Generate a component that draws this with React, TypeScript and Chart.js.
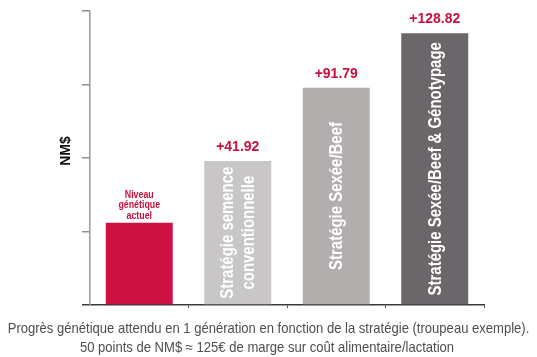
import React, { useEffect, useRef } from "react";
import { Chart, registerables } from "chart.js";

Chart.register(...registerables);

const categories = [
  "Niveau génétique actuel",
  "Stratégie semence conventionnelle",
  "Stratégie Sexée/Beef",
  "Stratégie Sexée/Beef & Génotypage",
];
const nmsValues = [56, 97.92, 147.79, 184.82];
const gainLabels = ["", "+41.92", "+91.79", "+128.82"];
const insideLabels = [[], ["Stratégie semence", "conventionnelle"], ["Stratégie Sexée/Beef"], ["Stratégie Sexée/Beef & Génotypage"]];
const aboveLabels = [["Niveau", "génétique", "actuel"], [], [], []];
const barColors = ["#CD1341", "#C8C6C6", "#B2AEAE", "#6B6669"];
const yMin = 0;
const yMax = 200;
const yStep = 50;
const yAxisTitle = "NM$";
const captionLines = [
  "Progrès génétique attendu en 1 génération en fonction de la stratégie (troupeau exemple).",
  "50 points de NM$ ≈ 125€ de marge sur coût alimentaire/lactation",
];

const SANS = "'Liberation Sans', Arial, sans-serif";
const RED = "#C8103E";

function narrowText(ctx: CanvasRenderingContext2D, text: string, x: number, y: number, sx: number) {
  ctx.save();
  ctx.translate(x, y);
  ctx.scale(sx, 1);
  ctx.fillText(text, 0, 0);
  ctx.restore();
}

const textPlugin = {
  id: "textPlugin",
  afterDraw(chart: any) {
    const ctx = chart.ctx as CanvasRenderingContext2D;
    const meta = chart.getDatasetMeta(0);
    ctx.save();
    meta.data.forEach((bar: any, i: number) => {
      const x = bar.x;
      const top = bar.y;
      const base = bar.base;
      if (gainLabels[i]) {
        ctx.font = `bold 14px ${SANS}`;
        ctx.fillStyle = RED;
        ctx.textAlign = "center";
        ctx.textBaseline = "alphabetic";
        ctx.fillText(gainLabels[i], x, top - 10);
      }
      const above = aboveLabels[i];
      if (above.length) {
        ctx.font = `bold 10.5px ${SANS}`;
        ctx.fillStyle = RED;
        ctx.textAlign = "center";
        ctx.textBaseline = "middle";
        const lh = 10.5;
        above.forEach((t: string, k: number) => {
          narrowText(ctx, t, x, top - 7 - (above.length - 1 - k) * lh, 0.84);
        });
      }
      const inside = insideLabels[i];
      if (inside.length) {
        ctx.save();
        ctx.translate(x, (top + base) / 2);
        ctx.rotate(-Math.PI / 2);
        ctx.font = `bold 18px ${SANS}`;
        ctx.fillStyle = "#FFFFFF";
        ctx.textAlign = "center";
        ctx.textBaseline = "middle";
        const lh = 21;
        inside.forEach((t: string, k: number) => {
          narrowText(ctx, t, 0, (k - (inside.length - 1) / 2) * lh + 1, 0.83);
        });
        ctx.restore();
      }
    });
    const ys = chart.scales.y;
    ctx.save();
    ctx.translate(66, (ys.top + ys.bottom) / 2 - 7);
    ctx.rotate(-Math.PI / 2);
    ctx.font = `bold 14px ${SANS}`;
    ctx.fillStyle = "#111111";
    ctx.textAlign = "center";
    ctx.textBaseline = "middle";
    ctx.fillText(yAxisTitle, 0, 0);
    ctx.restore();
    ctx.font = `14.5px ${SANS}`;
    ctx.fillStyle = "#4E4E4E";
    ctx.textAlign = "center";
    ctx.textBaseline = "alphabetic";
    narrowText(ctx, captionLines[0], 268.5, 333, 0.9);
    narrowText(ctx, captionLines[1], 267, 352, 0.9);
    ctx.restore();
  },
};

export default function App() {
  const canvasRef = useRef<HTMLCanvasElement | null>(null);

  useEffect(() => {
    document.body.style.margin = "0";
    const canvas = canvasRef.current;
    if (!canvas) return;
    const chart = new Chart(canvas, {
      type: "bar",
      data: {
        labels: categories,
        datasets: [
          {
            data: nmsValues,
            backgroundColor: barColors,
            borderWidth: 0,
            barPercentage: 0.68,
            categoryPercentage: 1,
          },
        ],
      },
      options: {
        responsive: false,
        animation: false,
        devicePixelRatio: 1,
        layout: { padding: { left: 82, right: 53, top: 11, bottom: 49 } },
        plugins: {
          legend: { display: false },
          tooltip: { enabled: false },
          title: { display: false },
        },
        scales: {
          x: {
            type: "category",
            ticks: { display: false },
            grid: {
              drawOnChartArea: false,
              drawTicks: true,
              tickLength: 3,
              offset: true,
              color: (ctx: any) => (ctx.index === 0 || ctx.index === categories.length ? "rgba(0,0,0,0)" : "#555555"),
              lineWidth: 1,
            },
            border: { display: true, color: "#3A3A3A", width: 1.5 },
          },
          y: {
            min: yMin,
            max: yMax,
            ticks: { display: false, stepSize: yStep },
            grid: {
              drawOnChartArea: false,
              drawTicks: true,
              tickLength: 8,
              color: (ctx: any) => (ctx.index === 0 ? "#3A3A3A" : "#8F8F8F"),
              lineWidth: 1.5,
            },
            border: { display: true, color: "#9A9A9A", width: 1.5 },
          },
        },
      },
      plugins: [textPlugin],
    });
    return () => chart.destroy();
  }, []);

  return (
    <div style={{ width: 537, height: 357 }}>
      <canvas ref={canvasRef} width={537} height={357} style={{ display: "block" }} />
    </div>
  );
}
